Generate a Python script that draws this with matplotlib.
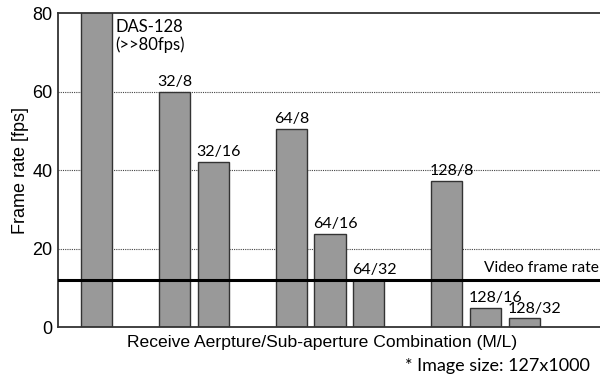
import matplotlib
matplotlib.use('Agg')
import matplotlib.pyplot as plt

# Datos
combinaciones = ['DAS-128', '32/8', '32/16', '64/8', '64/16', '64/32', '128/8', '128/16', '128/32']
posiciones = [0, 2, 3, 5, 6, 7, 9, 10, 11]
fps = [100, 60, 42, 50.4, 23.8, 12, 37.2, 4.8, 2.2]
video_fps = 12
y_ticks = [0, 20, 40, 60, 80]

fig = plt.figure(figsize=(6, 3.76), dpi=100)
ax = fig.add_axes([0.0967, 0.1303, 0.9033, 0.8351])

barras = ax.bar(posiciones, fps, width=0.8, color='#999999',
                edgecolor='#333333', linewidth=1.0, zorder=2)

# Etiquetas de las barras
for pos, val, nombre in zip(posiciones, fps, combinaciones):
    if nombre == 'DAS-128':
        ax.text(pos + 0.48, 78.5, 'DAS-128\n(>>80fps)', ha='left', va='top',
                fontsize=12, family='Lato', linespacing=1.15, zorder=4)
    else:
        ax.annotate(nombre, (pos - 0.44, val), xytext=(0, 2),
                    textcoords='offset points', ha='left', va='bottom',
                    fontsize=11.5, family='Lato', zorder=4)

# Linea de video
ax.axhline(video_fps, color='black', linewidth=2.2, zorder=3)
ax.text(12.9, video_fps + 1.3, 'Video frame rate', ha='right', va='bottom',
        fontsize=11.2, family='Lato', zorder=4)

ax.set_xlim(-0.99, 12.94)
ax.set_ylim(0, 80)
ax.set_yticks(y_ticks)
ax.set_xticks([])
ax.tick_params(axis='y', length=0, labelsize=13, pad=4)
for lbl in ax.get_yticklabels():
    lbl.set_family('Liberation Sans')

for y in [20, 40, 60]:
    ax.axhline(y, color='#444444', linewidth=0.8, linestyle=(0, (1, 1)), zorder=1)

for lado in ['left', 'bottom', 'top']:
    ax.spines[lado].set_color('#333333')
    ax.spines[lado].set_linewidth(1.3)
ax.spines['right'].set_visible(False)

ax.set_ylabel('Frame rate [fps]', fontsize=13, family='Liberation Sans', labelpad=2)
ax.set_xlabel('Receive Aerpture/Sub-aperture Combination (M/L)', fontsize=12.6,
              family='Liberation Sans')
ax.xaxis.set_label_coords(0.487, -0.025, transform=ax.transAxes)
ax.xaxis.label.set_va('top')
fig.text(0.983, 0.005, '* Image size: 127x1000', ha='right', va='bottom',
         fontsize=13, family='Lato')

plt.savefig('out.png', dpi=100, facecolor='white')
plt.close()
